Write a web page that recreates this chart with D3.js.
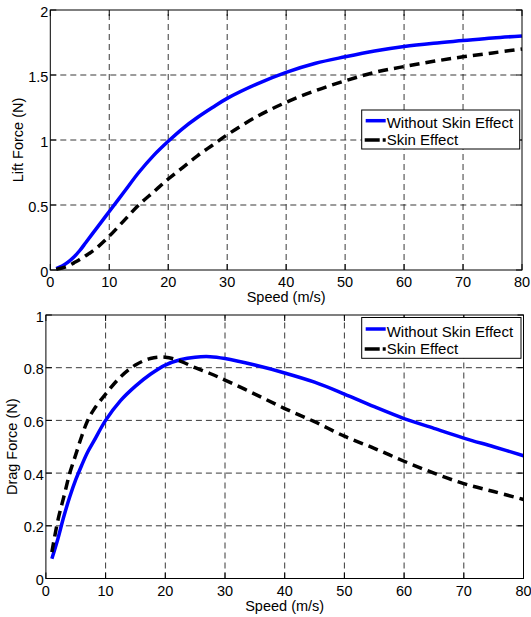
<!DOCTYPE html>
<html>
<head>
<meta charset="utf-8">
<script src="https://cdn.jsdelivr.net/npm/d3@7"></script>
<style>
  html, body { margin: 0; padding: 0; background: #fff; }
  svg { display: block; }
  text { font-family: "Liberation Sans", Arial, Helvetica, sans-serif; fill: #000; }
</style>
</head>
<body>
<svg id="chart" width="531" height="617"></svg>
<script>
// ---- data ----
const speed = [1, 2, 3, 4, 5, 6, 7, 8, 10, 12.5, 15, 17.5, 20, 22.5, 25, 27.5, 30, 35, 40, 45, 50, 55, 60, 65, 70, 75, 80];
const liftWithout = [0.01, 0.03, 0.06, 0.10, 0.15, 0.21, 0.27, 0.33, 0.45, 0.60, 0.75, 0.88, 0.99, 1.09, 1.175, 1.25, 1.32, 1.43, 1.52, 1.59, 1.64, 1.685, 1.72, 1.745, 1.765, 1.785, 1.80];
const liftSkin = [0.005, 0.015, 0.03, 0.055, 0.08, 0.11, 0.14, 0.175, 0.26, 0.38, 0.50, 0.60, 0.70, 0.79, 0.88, 0.96, 1.04, 1.18, 1.29, 1.38, 1.455, 1.52, 1.565, 1.605, 1.64, 1.67, 1.70];
const dragWithout = [0.075, 0.15, 0.235, 0.31, 0.375, 0.43, 0.48, 0.52, 0.60, 0.675, 0.73, 0.775, 0.81, 0.83, 0.84, 0.842, 0.835, 0.81, 0.78, 0.745, 0.70, 0.652, 0.607, 0.57, 0.533, 0.50, 0.466];
const dragSkin = [0.10, 0.22, 0.31, 0.40, 0.47, 0.54, 0.60, 0.64, 0.70, 0.765, 0.81, 0.835, 0.84, 0.825, 0.80, 0.778, 0.753, 0.70, 0.645, 0.595, 0.54, 0.494, 0.445, 0.40, 0.36, 0.33, 0.30];
const xTicks = [0, 10, 20, 30, 40, 50, 60, 70, 80];
const liftTicks = [0, 0.5, 1, 1.5, 2];
const dragTicks = [0, 0.2, 0.4, 0.6, 0.8, 1];
const seriesNames = ["Without Skin Effect", "Skin Effect"];
const xLabel = "Speed (m/s)";
const liftLabel = "Lift Force (N)";
const dragLabel = "Drag Force (N)";

const svg = d3.select("#chart");
const FS = 14.5;

function panel(cfg) {
  const x = d3.scaleLinear().domain([0, 80]).range([cfg.left, cfg.right]);
  const y = d3.scaleLinear().domain(cfg.yDomain).range([cfg.bottom, cfg.top]);
  const g = svg.append("g");

  // grid
  const grid = g.append("g").attr("stroke", "#222").attr("stroke-width", 0.9).attr("stroke-dasharray", "6,4");
  xTicks.slice(1, -1).forEach(t => {
    grid.append("line").attr("x1", x(t)).attr("x2", x(t)).attr("y1", cfg.bottom).attr("y2", cfg.top);
  });
  cfg.yTicks.slice(1, -1).forEach(t => {
    grid.append("line").attr("x1", cfg.left).attr("x2", cfg.right).attr("y1", y(t)).attr("y2", y(t));
  });

  // curves
  const line = (vals) => d3.line().x((d, i) => x(speed[i])).y(d => y(d)).curve(d3.curveCatmullRom.alpha(0.5))(vals);
  g.append("path").attr("d", line(cfg.blue)).attr("fill", "none").attr("stroke", "#0000ff").attr("stroke-width", 3.5).attr("stroke-linejoin", "round");
  g.append("path").attr("d", line(cfg.black)).attr("fill", "none").attr("stroke", "#000").attr("stroke-width", 3.5).attr("stroke-dasharray", "10,6");

  // frame
  g.append("rect").attr("x", cfg.left).attr("y", cfg.top).attr("width", cfg.right - cfg.left).attr("height", cfg.bottom - cfg.top)
    .attr("fill", "none").attr("stroke", "#000").attr("stroke-width", 1);

  // ticks (inward, all sides)
  const tk = g.append("g").attr("stroke", "#000").attr("stroke-width", 1);
  xTicks.forEach(t => {
    tk.append("line").attr("x1", x(t)).attr("x2", x(t)).attr("y1", cfg.bottom).attr("y2", cfg.bottom - 6);
    tk.append("line").attr("x1", x(t)).attr("x2", x(t)).attr("y1", cfg.top).attr("y2", cfg.top + 6);
  });
  cfg.yTicks.forEach(t => {
    tk.append("line").attr("x1", cfg.left).attr("x2", cfg.left + 6).attr("y1", y(t)).attr("y2", y(t));
    tk.append("line").attr("x1", cfg.right).attr("x2", cfg.right - 6).attr("y1", y(t)).attr("y2", y(t));
  });

  // tick labels
  xTicks.forEach(t => {
    g.append("text").attr("x", x(t)).attr("y", cfg.xTickBase).attr("text-anchor", "middle").attr("font-size", FS).text(t);
  });
  cfg.yTicks.forEach(t => {
    g.append("text").attr("x", cfg.left - 2).attr("y", y(t)).attr("dy", "0.45em").attr("text-anchor", "end").attr("font-size", FS).text(t);
  });

  // axis labels
  g.append("text").attr("x", (cfg.left + cfg.right) / 2).attr("y", cfg.xLabelBase).attr("text-anchor", "middle").attr("font-size", FS).text(xLabel);
  g.append("text").attr("transform", `translate(${cfg.yLabelX},${(cfg.top + cfg.bottom) / 2}) rotate(-90)`)
    .attr("text-anchor", "middle").attr("dy", "0.35em").attr("font-size", FS).text(cfg.yLabel);

  // legend
  const L = cfg.legend;
  const lg = g.append("g");
  lg.append("rect").attr("x", L.x).attr("y", L.y).attr("width", L.w).attr("height", L.h).attr("fill", "#fff").attr("stroke", "#000").attr("stroke-width", 1);
  lg.append("line").attr("x1", L.x + 4).attr("x2", L.x + 24).attr("y1", L.y + L.l1).attr("y2", L.y + L.l1).attr("stroke", "#0000ff").attr("stroke-width", 3.5);
  lg.append("line").attr("x1", L.x + 3).attr("x2", L.x + 24).attr("y1", L.y + L.l2).attr("y2", L.y + L.l2).attr("stroke", "#000").attr("stroke-width", 3.5).attr("stroke-dasharray", "15,3");
  lg.append("text").attr("x", L.x + 25).attr("y", L.y + L.b1).attr("font-size", 15).text(seriesNames[0]);
  lg.append("text").attr("x", L.x + 25).attr("y", L.y + L.b2).attr("font-size", 15).text(seriesNames[1]);
}

panel({
  left: 50.3, right: 522, top: 10, bottom: 270, yDomain: [0, 2], yTicks: liftTicks,
  blue: liftWithout, black: liftSkin, yLabel: liftLabel,
  xTickBase: 287, xLabelBase: 302, yLabelX: 18,
  legend: { x: 361.7, y: 110, w: 158, h: 39, l1: 10.7, l2: 30, b1: 17.5, b2: 35 }
});
panel({
  left: 45.9, right: 523.5, top: 315, bottom: 578.5, yDomain: [0, 1], yTicks: dragTicks,
  blue: dragWithout, black: dragSkin, yLabel: dragLabel,
  xTickBase: 596, xLabelBase: 611, yLabelX: 12,
  legend: { x: 361.7, y: 317.5, w: 159.3, h: 40.8, l1: 11.5, l2: 31.5, b1: 19, b2: 36.7 }
});
</script>
</body>
</html>
